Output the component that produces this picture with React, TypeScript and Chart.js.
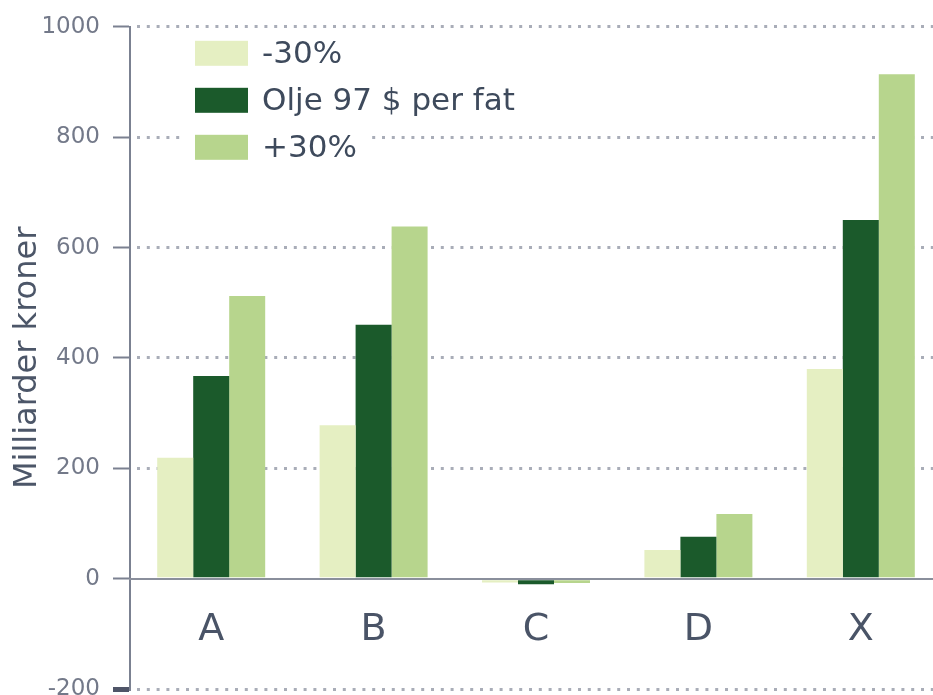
import React, { useEffect, useRef } from 'react';
import { Chart, registerables } from 'chart.js';

Chart.register(...registerables);

// Categories along the x axis
const categories = ['A', 'B', 'C', 'D', 'X'];

// Series (milliarder kroner)
const seriesLabels = ['-30%', 'Olje 97 $ per fat', '+30%'];
const lowOil = [219, 278, -7, 52, 380];
const baseOil = [367, 460, -10, 76, 650];
const highOil = [512, 638, -8, 117, 914];
const seriesColors = ['#e5efc2', '#1b5a2b', '#b7d58d'];

// Value axis
const yTicks = [-200, 0, 200, 400, 600, 800, 1000];
const yTitle = 'Milliarder kroner';

const FONT = '"DejaVu Sans", "Noto Sans", sans-serif';

// Legend drawn inside the plot area, top-left, as a vertical list
const insetLegend = {
  id: 'insetLegend',
  afterDraw(chart: any) {
    const { ctx, chartArea } = chart;
    const x0 = chartArea.left + 65;
    const top0 = chartArea.top + 14;
    const rowH = 47;
    const boxW = 53;
    const boxH = 25;
    const gap = 14;
    ctx.save();
    ctx.font = `31px ${FONT}`;
    ctx.textBaseline = 'middle';
    ctx.textAlign = 'left';
    chart.data.datasets.forEach((ds: any, i: number) => {
      const y = top0 + i * rowH;
      const tw = ctx.measureText(ds.label).width;
      ctx.fillStyle = '#ffffff';
      ctx.fillRect(x0 - 12, y - 9, boxW + gap + tw + 24, boxH + 18);
      ctx.fillStyle = ds.backgroundColor;
      ctx.fillRect(x0, y, boxW, boxH);
      ctx.fillStyle = '#3e4a5c';
      ctx.fillText(ds.label, x0 + boxW + gap, y + boxH / 2 + 2);
    });
    ctx.restore();
  },
};

export default function App() {
  const canvasRef = useRef<HTMLCanvasElement | null>(null);

  useEffect(() => {
    if (!canvasRef.current) return;
    const values = [lowOil, baseOil, highOil];
    const chart = new Chart(canvasRef.current, {
      type: 'bar',
      data: {
        labels: categories,
        datasets: seriesLabels.map((label, i) => ({
          label,
          data: values[i],
          backgroundColor: seriesColors[i],
          borderWidth: 0,
          categoryPercentage: 0.665,
          barPercentage: 1.0,
        })),
      },
      options: {
        responsive: false,
        animation: false,
        events: [],
        layout: { padding: { top: 25, right: 18, bottom: 31, left: 0 } },
        plugins: {
          legend: { display: false },
          tooltip: { enabled: false },
        },
        scales: {
          x: {
            position: { y: 0 } as any,
            offset: true,
            grid: {
              display: true,
              drawOnChartArea: false,
              drawTicks: false,
              color: 'rgba(0,0,0,0)',
            },
            border: { display: true, color: '#8a8f9c', width: 2, z: 1 },
            ticks: {
              color: '#4a5467',
              font: { family: FONT, size: 38 },
              padding: 29,
            },
          },
          y: {
            min: -200,
            max: 1000,
            afterFit(scale: any) {
              scale.width = 130;
            },
            afterBuildTicks(scale: any) {
              scale.ticks = yTicks.map((v) => ({ value: v }));
            },
            ticks: {
              color: '#737989',
              font: { family: FONT, size: 23 },
              padding: 13,
              callback: (v: any) => String(v),
            },
            grid: {
              color: (c: any) => (c.tick && c.tick.value === 0 ? 'rgba(0,0,0,0)' : '#a9adb8'),
              lineWidth: 3,
              tickLength: 17,
              tickColor: (c: any) => (c.tick && c.tick.value === -200 ? '#4f5568' : '#7b8191'),
              tickWidth: (c: any) => (c.tick && c.tick.value === -200 ? 5 : 2),
            },
            border: {
              display: true,
              color: '#7b8191',
              width: 2,
              dash: [3, 6.8],
              dashOffset: 3.8,
            },
            title: {
              display: true,
              text: yTitle,
              color: '#4c5668',
              font: { family: FONT, size: 32 },
              padding: { top: 8, bottom: 0 },
            },
          },
        },
      },
      plugins: [insetLegend],
    });
    return () => chart.destroy();
  }, []);

  return (
    <div
      style={{
        position: 'absolute',
        left: 0,
        top: 0,
        width: 933,
        height: 695,
        overflow: 'hidden',
        background: '#ffffff',
      }}
    >
      <canvas ref={canvasRef} width={960} height={720} style={{ display: 'block' }} />
    </div>
  );
}
